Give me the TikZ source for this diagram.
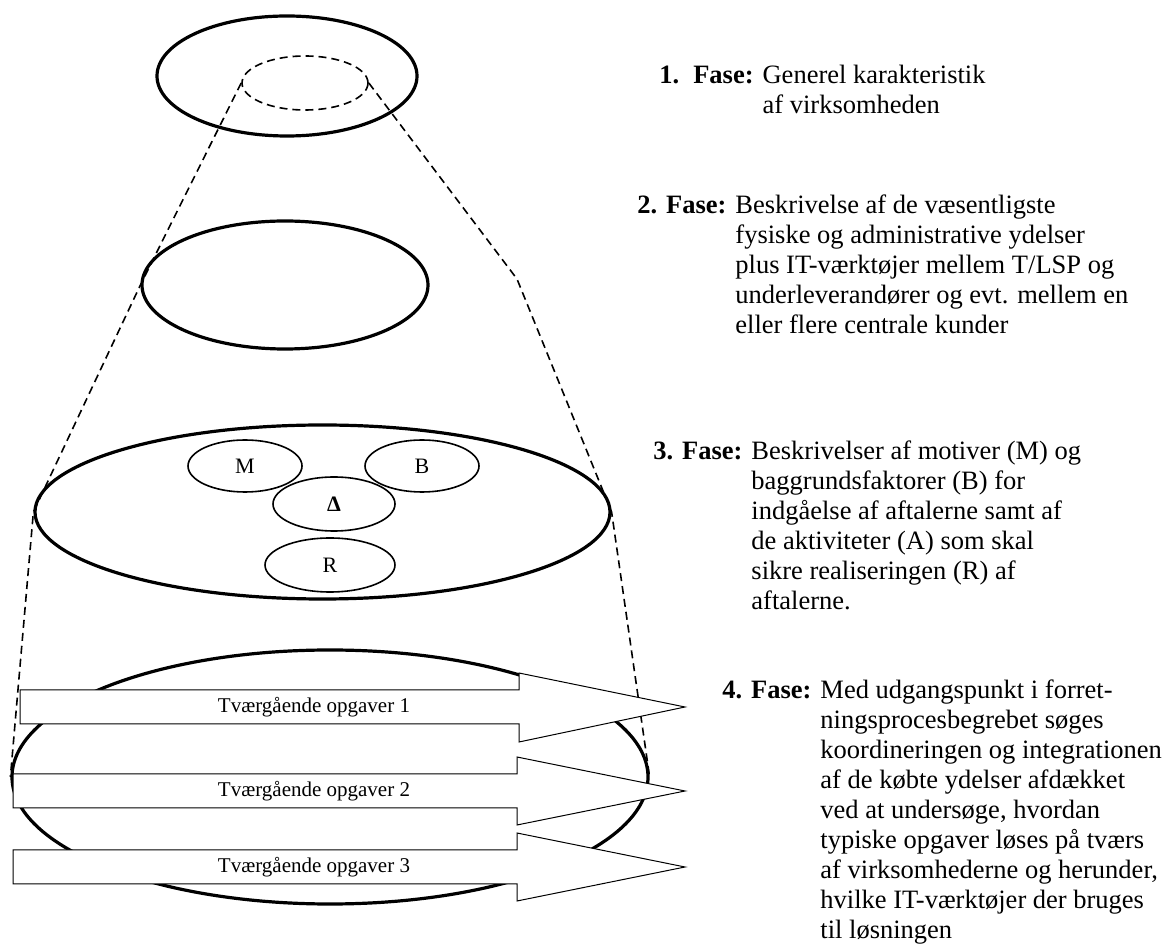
\documentclass[tikz,border=0pt]{standalone}
\usepackage{fontspec}
\setmainfont{Liberation Serif}
\usetikzlibrary{positioning,
                shapes.geometric}
\tikzset{
        level/.style={draw, ellipse, line width=1.6pt, inner sep=0pt},
        core/.style={draw, ellipse, line width=0.8pt, inner sep=0pt,
                     dash pattern=on 4pt off 2.5pt},
        factor/.style={draw, ellipse, line width=0.8pt, inner sep=0pt,
                       font=\fontsize{11}{13}\selectfont},
        cone/.style={line width=0.8pt, dash pattern=on 4pt off 2.5pt},
        task/.style={draw, fill=white, line width=0.5pt},
        tasklabel/.style={inner sep=0pt, font=\fontsize{10.5}{12}\selectfont},
        phase/.style={inner sep=0pt, anchor=base west,
                      font=\fontsize{13.25}{15}\selectfont},
 }
\newcommand{\phasebox}[2]{%
  \begin{tabular}[t]{@{}l@{\hspace{4.5pt}}l@{}}\textbf{#1} & #2\end{tabular}}

\begin{document}
\begin{tikzpicture}[x=0.5pt, y=-0.5pt]
    \useasboundingbox (0,0) rectangle (1163,951);

    % the four levels
    \node[level, minimum width=130pt, minimum height=60pt] (lvl1) at (287,76) {};
    \node[core, minimum width=63pt, minimum height=27pt] (focus) at (305,83) {};
    \node[level, minimum width=143pt, minimum height=64pt] (lvl2) at (285,285) {};
    \node[level, minimum width=287.5pt, minimum height=87pt] (lvl3) at (322.5,512) {};
    \node[level, minimum width=318pt, minimum height=127pt] (lvl4) at (330,777) {};

    \node[factor, minimum width=57pt, minimum height=26pt] (motive) at (245,466) {M};
    \node[factor, minimum width=57pt, minimum height=26pt] (backgr) at (422,466) {B};
    \node[factor, minimum width=61pt, minimum height=27pt] (activ) at (334,504) {\textbf{Δ}};
    \node[factor, minimum width=65pt, minimum height=27pt] (realis) at (330,565) {R};

    % cone
    \coordinate (bend) at (517,279);
    \draw[cone] (focus.west) -- (lvl2.west) -- (lvl3.west) -- (lvl4.west);
    \draw[cone] (focus.east) -- (bend) -- (lvl3.east) -- (lvl4.east);

    % cross going tasks
    \draw[task] (20,690) -- (519,690) -- (519,673) -- (685,707) -- (519,742)
                -- (519,724) -- (20,724) -- cycle;
    \node[tasklabel] (task1) at (314,707) {Tværgående opgaver 1};
    \draw[task] (13,774) -- (517,774) -- (517,757) -- (685,791) -- (517,825)
                -- (517,808) -- (13,808) -- cycle;
    \node[tasklabel] (task2) at (314,791) {Tværgående opgaver 2};
    \draw[task] (13,850) -- (517,850) -- (517,833) -- (685,867) -- (517,901)
                -- (517,884) -- (13,884) -- cycle;
    \node[tasklabel] (task3) at (314,867) {Tværgående opgaver 3};

    % phases
    \node[phase] (ph1) at (659,84)
         {\phasebox{1.\hspace{7pt}Fase:}{Generel karakteristik\\&af virksomheden}};
    \node[phase] (ph2) at (637,214)
         {\phasebox{2. Fase:}{Beskrivelse af de væsentligste\\
          &fysiske og administrative ydelser\\
          &plus IT-værktøjer mellem T/LSP og\\
          &underleverandører og evt. mellem en\\
          &eller flere centrale kunder}};
    \node[phase] (ph3) at (653,460)
         {\phasebox{3. Fase:}{Beskrivelser af motiver (M) og\\
          &baggrundsfaktorer (B) for\\
          &indgåelse af aftalerne samt af\\
          &de aktiviteter (A) som skal\\
          &sikre realiseringen (R) af\\
          &aftalerne.}};
    \node[phase] (ph4) at (722,699)
         {\phasebox{4. Fase:}{Med udgangspunkt i forret-\\
          &ningsprocesbegrebet søges\\
          &koordineringen og integrationen\\
          &af de købte ydelser afdækket\\
          &ved at undersøge, hvordan\\
          &typiske opgaver løses på tværs\\
          &af virksomhederne og herunder,\\
          &hvilke IT-værktøjer der bruges\\
          &til løsningen}};

\end{tikzpicture}
\end{document}
